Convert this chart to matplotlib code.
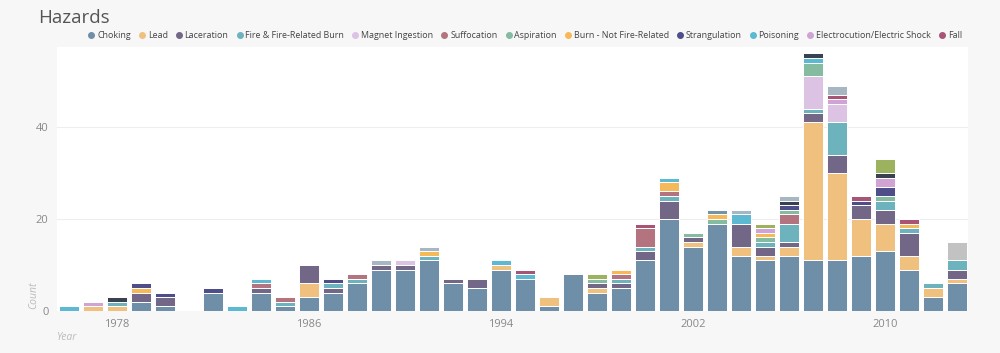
import numpy as np
import matplotlib as mpl
mpl.use('Agg')
import matplotlib.pyplot as plt
from matplotlib.lines import Line2D

# years 1976 .. 2013
years = list(range(1976, 2014))

def yearly(d):
    return [d.get(y, 0) for y in years]

choking = yearly({1979:2, 1980:1, 1982:4, 1984:4, 1985:1, 1986:3, 1987:4,
                  1988:6, 1989:9, 1990:9, 1991:11, 1992:6, 1993:5, 1994:9,
                  1995:7, 1996:1, 1997:8, 1998:4, 1999:5, 2000:11, 2001:20,
                  2002:14, 2003:19, 2004:12, 2005:11, 2006:12, 2007:11,
                  2008:11, 2009:12, 2010:13, 2011:9, 2012:3, 2013:6})
lead = yearly({1977:1, 1978:1, 1986:3, 1994:1, 1996:2, 1998:1, 2002:1,
               2004:2, 2005:1, 2006:2, 2007:30, 2008:19, 2009:8, 2010:6,
               2011:3, 2012:2, 2013:1})
laceration = yearly({1979:2, 1980:2, 1984:1, 1986:4, 1987:1, 1989:1, 1990:1,
                     1992:1, 1993:2, 1998:1, 1999:1, 2000:2, 2001:4, 2002:1,
                     2004:5, 2005:2, 2006:1, 2007:2, 2008:4, 2009:3, 2010:3,
                     2011:5, 2013:2})
fire = yearly({1978:1, 1985:1, 1987:1, 1988:1, 1991:1, 1999:1, 2000:1,
               2001:1, 2005:1, 2006:4, 2007:1, 2008:7, 2010:2, 2011:1,
               2012:1, 2013:2})
magnet = yearly({1990:1, 2007:7, 2008:4})
suffocation = yearly({1984:1, 1985:1, 1988:1, 1999:1, 2000:4, 2001:1, 2006:2})
aspiration = yearly({1998:1, 2002:1, 2003:1, 2005:1, 2006:1, 2007:3, 2010:1})
burn = yearly({1979:1, 1991:1, 1999:1, 2001:2, 2003:1, 2005:1, 2011:1})
strangulation = yearly({1979:1, 1980:1, 1982:1, 1987:1, 2006:1, 2009:1, 2010:2})
poisoning = yearly({1976:1, 1983:1, 1984:1, 1994:1, 1995:1, 2001:1, 2004:2,
                    2007:1})
electro = yearly({1977:1, 2005:1, 2008:1, 2010:2})
fall = yearly({1995:1, 2000:1, 2008:1, 2009:1, 2011:1})
# hazards further along the (cut off) legend
drowning = yearly({1978:1, 2006:1, 2007:1, 2010:1})
entrapment = yearly({1998:1, 2005:1, 2010:3})
ingestion = yearly({1989:1, 1991:1, 2004:1, 2006:1, 2008:2})
tipover = yearly({2003:1})
other = yearly({2013:4})

names = ['Choking', 'Lead', 'Laceration', 'Fire & Fire-Related Burn',
         'Magnet Ingestion', 'Suffocation', 'Aspiration',
         'Burn - Not Fire-Related', 'Strangulation', 'Poisoning',
         'Electrocution/Electric Shock', 'Fall',
         'Drowning', 'Entrapment', 'Ingestion', 'Tip-Over', 'Other']
series = [choking, lead, laceration, fire, magnet, suffocation, aspiration,
          burn, strangulation, poisoning, electro, fall,
          drowning, entrapment, ingestion, tipover, other]
colors = ['#6f8ea8', '#f0c07f', '#726787', '#6cb3bd', '#dcc3e3', '#b37480',
          '#85bba0', '#f5b95a', '#4e4f8a', '#5db9d2', '#cfa3d3', '#a85474',
          '#3a4150', '#9cb25e', '#a7b6c3', '#7393ab', '#c2c2c2']
n_legend = 12

plt.rcParams['font.family'] = ['Open Sans', 'DejaVu Sans']

fig = plt.figure(figsize=(10, 3.53), dpi=100, facecolor='#f7f7f7')
ax = fig.add_axes([0.057, 0.119, 0.911, 0.748])
ax.set_facecolor('white')

bottom = np.zeros(len(years))
for name, vals, c in zip(names, series, colors):
    vals = np.array(vals, dtype=float)
    ax.bar(years, vals, bottom=bottom, width=0.86, color=c,
           edgecolor='white', linewidth=0.7, label=name)
    bottom += vals

ax.set_xlim(1975.5, 2013.46)
ax.set_ylim(0, 57.4)
ax.set_yticks([0, 20, 40])
ax.set_xticks([1978, 1986, 1994, 2002, 2010])
ax.yaxis.grid(True, color='#eeeeee', lw=0.8)
ax.set_axisbelow(True)
for s in ax.spines.values():
    s.set_visible(False)
ax.tick_params(length=0, colors='#888888', labelsize=8, pad=6)

ax.set_ylabel('Count', fontsize=7.5, style='italic', color='#bbbbbb')
ax.yaxis.set_label_coords(-0.02, 0.06)
ax.set_xlabel('Year', fontsize=7.5, style='italic', color='#bbbbbb')
ax.xaxis.set_label_coords(0.01, -0.08)

fig.text(0.038, 0.95, 'Hazards', fontsize=13.5, color='#555555', va='center')

handles = [Line2D([], [], ls='', marker='o', ms=4, mfc=c, mec=c)
           for c in colors[:n_legend]]
fig.legend(handles, names[:n_legend], ncol=n_legend, frameon=False,
           loc='center right', bbox_to_anchor=(0.97, 0.9), fontsize=6.4,
           handletextpad=0.25, columnspacing=0.85, handlelength=0.8,
           labelcolor='#444444')

fig.savefig('out.png', facecolor=fig.get_facecolor())
